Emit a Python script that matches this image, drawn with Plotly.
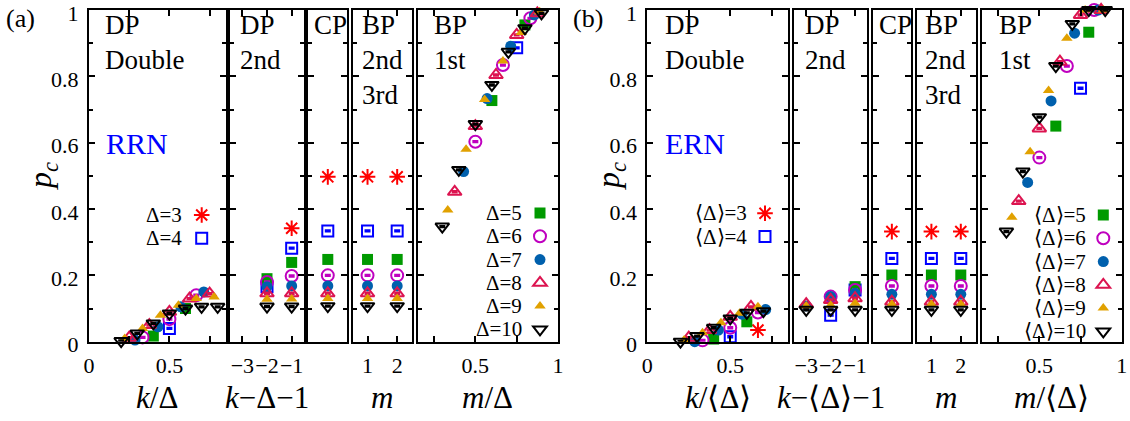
import plotly.graph_objects as go

W, H = 1130, 421
FONT = "Times New Roman, Liberation Serif, serif"

DELTAS = [3, 4, 5, 6, 7, 8, 9, 10]

# ---------------- Panel (a): RRN ----------------
# DP Double, x = k/Δ
RRN_DD_X = {3: [], 4: [0.5], 5: [0.4, 0.6], 6: [0.333, 0.5, 0.667],
            7: [0.286, 0.429, 0.571, 0.714], 8: [0.25, 0.375, 0.5, 0.625, 0.75],
            9: [0.222, 0.333, 0.444, 0.556, 0.667, 0.778],
            10: [0.2, 0.3, 0.4, 0.5, 0.6, 0.7, 0.8]}
RRN_DD_Y = {3: [], 4: [0.04], 5: [0.017, 0.10], 6: [0.013, 0.068, 0.14],
            7: [0.005, 0.045, 0.105, 0.15], 8: [0.012, 0.05, 0.09, 0.13, 0.145],
            9: [0.01, 0.04, 0.08, 0.11, 0.13, 0.135],
            10: [0.002, 0.025, 0.055, 0.085, 0.10, 0.105, 0.105]}
# DP 2nd, x = k-Δ-1
RRN_DP2_X = {3: [-1], 4: [-2, -1], 5: [-2, -1], 6: [-2, -1], 7: [-2, -1],
             8: [-2, -1], 9: [-2, -1], 10: [-2, -1]}
RRN_DP2_Y = {3: [0.342], 4: [0.166, 0.282], 5: [0.19, 0.239], 6: [0.18, 0.198],
             7: [0.166, 0.168], 8: [0.146, 0.146], 9: [0.128, 0.129], 10: [0.106, 0.106]}
# CP (one value per Δ, order of DELTAS)
RRN_CP = [0.497, 0.334, 0.248, 0.2, 0.168, 0.146, 0.13, 0.107]
# BP 2nd/3rd at m = 1 and m = 2
RRN_BP23_M1 = [0.497, 0.334, 0.248, 0.2, 0.168, 0.146, 0.13, 0.107]
RRN_BP23_M2 = [0.497, 0.334, 0.248, 0.2, 0.168, 0.146, 0.13, 0.107]
# BP 1st, x = m/Δ
RRN_BP1_X = {3: [], 4: [0.75], 5: [0.6, 0.8], 6: [0.5, 0.667, 0.833],
             7: [0.429, 0.571, 0.714, 0.857], 8: [0.375, 0.5, 0.625, 0.75, 0.875],
             9: [0.333, 0.444, 0.556, 0.667, 0.778, 0.889],
             10: [0.3, 0.4, 0.5, 0.6, 0.7, 0.8, 0.9]}
RRN_BP1_Y = {3: [], 4: [0.886], 5: [0.727, 0.955], 6: [0.603, 0.834, 0.975],
             7: [0.513, 0.733, 0.891, 0.985], 8: [0.452, 0.65, 0.804, 0.925, 0.99],
             9: [0.397, 0.58, 0.73, 0.846, 0.932, 0.995],
             10: [0.347, 0.518, 0.656, 0.774, 0.874, 0.945, 0.99]}

# ---------------- Panel (b): ERN ----------------
ERN_DD_X = {3: [0.667], 4: [0.5], 5: [0.4, 0.6], 6: [0.333, 0.5, 0.667],
            7: [0.286, 0.429, 0.571, 0.714], 8: [0.25, 0.375, 0.5, 0.625],
            9: [0.222, 0.333, 0.444, 0.556, 0.667],
            10: [0.2, 0.3, 0.4, 0.5, 0.6, 0.7]}
ERN_DD_Y = {3: [0.035], 4: [0.015], 5: [0.008, 0.06], 6: [0.004, 0.042, 0.088],
            7: [0.0, 0.035, 0.083, 0.097], 8: [0.012, 0.035, 0.075, 0.105],
            9: [0.005, 0.027, 0.057, 0.086, 0.105],
            10: [0.0, 0.017, 0.042, 0.07, 0.087, 0.092]}
ERN_DP2_X = {3: [], 4: [-2, -1], 5: [-1], 6: [-2, -1], 7: [-3, -2, -1],
             8: [-3, -2, -1], 9: [-3, -2, -1], 10: [-3, -2, -1]}
ERN_DP2_Y = {3: [], 4: [0.08, 0.156], 5: [0.166], 6: [0.136, 0.156],
             7: [0.108, 0.136, 0.146], 8: [0.113, 0.126, 0.131],
             9: [0.108, 0.11, 0.116], 10: [0.096, 0.096, 0.096]}
ERN_CP = [0.332, 0.251, 0.201, 0.168, 0.143, 0.121, 0.113, 0.096]
ERN_BP23_M1 = [0.332, 0.251, 0.201, 0.168, 0.143, 0.121, 0.113, 0.096]
ERN_BP23_M2 = [0.332, 0.251, 0.201, 0.168, 0.143, 0.121, 0.113, 0.096]
ERN_BP1_X = {3: [], 4: [0.75], 5: [0.6, 0.8], 6: [0.5, 0.667, 0.833],
             7: [0.429, 0.571, 0.714, 0.857], 8: [0.375, 0.5, 0.625, 0.75, 0.875],
             9: [0.333, 0.444, 0.556, 0.667, 0.778, 0.889],
             10: [0.3, 0.4, 0.5, 0.6, 0.7, 0.8, 0.9]}
ERN_BP1_Y = {3: [], 4: [0.764], 5: [0.65, 0.933], 6: [0.555, 0.831, 1.0],
             7: [0.48, 0.726, 0.93, 1.0], 8: [0.424, 0.643, 0.844, 0.985, 1.0],
             9: [0.375, 0.573, 0.757, 0.915, 1.0, 1.0],
             10: [0.332, 0.513, 0.677, 0.831, 0.958, 1.0, 1.0]}

BP23_M = [1, 2]
CP_X = [1]
Y_TICKS = [0, 0.2, 0.4, 0.6, 0.8, 1]
Y_MINOR = [0.1, 0.3, 0.5, 0.7, 0.9]

# ---------------- styles ----------------
STYLE = {
    3: dict(symbol="asterisk-open", size=13, color="#ff0000", err=False),
    4: dict(symbol="square-open", size=11, color="#0000ff", err=True),
    5: dict(symbol="square", size=11, color="#009a00", err=False),
    6: dict(symbol="circle-open", size=12, color="#bf00bf", err=True),
    7: dict(symbol="circle", size=11, color="#0060ad", err=False),
    8: dict(symbol="triangle-up-open", size=12, color="#dc1450", err=True),
    9: dict(symbol="triangle-up", size=10, color="#e1a100", err=False),
    10: dict(symbol="triangle-down-open", size=12, color="#000000", err=True),
}


def px2x(px):
    return px / W


def py2y(py):
    return 1 - py / H


def xname(i):
    return "x" if i == 1 else f"x{i}"


def yname(i):
    return "y" if i == 1 else f"y{i}"


# subplot pixel boxes (left, right)
XBOX = [(89, 225.7), (230, 304), (308.3, 347.3), (352.7, 412), (417.5, 558),
        (647.3, 788.3), (794, 867.3), (872.7, 911), (916.7, 975.5), (981.7, 1121.7)]
YDOM = [py2y(341.7), py2y(10)]

LEG_FS = 15.6
LH = 1.3 * LEG_FS + 3

fig = go.Figure()


def marker_for(d):
    s = STYLE[d]
    open_ = s["symbol"].endswith("open")
    return dict(symbol=s["symbol"], size=s["size"], color=s["color"],
                line=dict(color=s["color"], width=2 if open_ else 0))


def err_for(d):
    s = STYLE[d]
    if not s["err"]:
        return None
    return dict(type="constant", value=0.002, width=3, thickness=2, color=s["color"])


def add(d, x, y, sub, legend=None):
    fig.add_trace(go.Scatter(
        x=x, y=y, mode="markers", xaxis=xname(sub), yaxis=yname(sub),
        marker=marker_for(d), error_y=err_for(d), cliponaxis=False,
        name=" ", showlegend=legend is not None, legend=legend or "legend",
        hoverinfo="x+y",
    ))


panels = [
    (0, RRN_DD_X, RRN_DD_Y, RRN_DP2_X, RRN_DP2_Y, RRN_CP, RRN_BP23_M1, RRN_BP23_M2,
     RRN_BP1_X, RRN_BP1_Y, "legend", "legend2"),
    (5, ERN_DD_X, ERN_DD_Y, ERN_DP2_X, ERN_DP2_Y, ERN_CP, ERN_BP23_M1, ERN_BP23_M2,
     ERN_BP1_X, ERN_BP1_Y, "legend3", "legend4"),
]
for off, ddx, ddy, d2x, d2y, cp, m1, m2, b1x, b1y, lgA, lgB in panels:
    for j, d in enumerate(DELTAS):
        add(d, ddx[d], ddy[d], off + 1)
        add(d, d2x[d], d2y[d], off + 2)
        add(d, CP_X, [cp[j]], off + 3, legend=(lgA if d <= 4 else lgB))
        add(d, BP23_M, [m1[j], m2[j]], off + 4)
        add(d, b1x[d], b1y[d], off + 5)

# ---------------- axes ----------------
axis_common = dict(showline=True, linewidth=2, linecolor="black", mirror="allticks",
                   ticks="inside", ticklen=6, tickwidth=1.5, tickcolor="black",
                   showgrid=False, zeroline=False, automargin=False,
                   ticklabeloverflow="allow",
                   tickfont=dict(family=FONT, size=22, color="black"))
layout = dict(width=W, height=H, autosize=False, margin=dict(l=0, r=0, t=0, b=0, autoexpand=False),
              paper_bgcolor="white", plot_bgcolor="white", showlegend=True,
              font=dict(family=FONT, color="black"))

XSPEC = {
    1: dict(range=[0, 0.85], tick0=0, dtick=0.5, minor=dict(dtick=0.25, ticks="inside", ticklen=6, tickcolor="black")),
    2: dict(range=[-3.5, -0.5], tickvals=[-3, -2, -1]),
    3: dict(range=[0.5, 1.5], ticks="", showticklabels=False),
    4: dict(range=[0.5, 2.5], tickvals=[1, 2]),
    5: dict(range=[0.15, 1.0], tick0=0, dtick=0.5, minor=dict(dtick=0.25, ticks="inside", ticklen=6, tickcolor="black")),
}
for i in range(1, 11):
    k = (i - 1) % 5 + 1
    l, r = XBOX[i - 1]
    xa = dict(axis_common)
    xa.update(domain=[px2x(l), px2x(r)], anchor=yname(i), ticklabelstandoff=3, tickangle=0)
    xa.update(XSPEC[k])
    ya = dict(axis_common)
    ya.update(domain=YDOM, anchor=xname(i), range=[0, 1], tickmode="array",
              tickvals=Y_TICKS, ticktext=["0", "0.2", "0.4", "0.6", "0.8", "1"],
              minor=dict(tickmode="array", tickvals=Y_MINOR, ticks="inside", ticklen=4, tickcolor="black"),
              showticklabels=(k == 1), ticklabelstandoff=4, ticklabelshift=3)
    layout["xaxis" if i == 1 else f"xaxis{i}"] = xa
    layout["yaxis" if i == 1 else f"yaxis{i}"] = ya

# ---------------- legends (symbols only; labels as text to their left) ----------------
LEG_DEF = [
    ("legend", 201.7, 215, 183.3, ["Δ=3", "Δ=4"]),
    ("legend2", 540, 213, 523, ["Δ=5", "Δ=6", "Δ=7", "Δ=8", "Δ=9", "Δ=10"]),
    ("legend3", 765, 213.3, 748.3, ["⟨Δ⟩=3", "⟨Δ⟩=4"]),
    ("legend4", 1103.3, 215, 1086.7, ["⟨Δ⟩=5", "⟨Δ⟩=6", "⟨Δ⟩=7", "⟨Δ⟩=8", "⟨Δ⟩=9", "⟨Δ⟩=10"]),
]
annotations = []
for name, sym_px, first_py, text_right, labels in LEG_DEF:
    layout[name] = dict(x=px2x(sym_px - 20), y=py2y(first_py - 5 - LH / 2),
                        xanchor="left", yanchor="top", bgcolor="rgba(0,0,0,0)",
                        borderwidth=0, tracegroupgap=0, itemsizing="trace",
                        font=dict(family=FONT, size=LEG_FS, color="black"))
    for i, lab in enumerate(labels):
        annotations.append(dict(text=lab, x=px2x(text_right), y=py2y(first_py + i * LH),
                                xref="paper", yref="paper", xanchor="right", yanchor="middle",
                                showarrow=False, borderpad=0,
                                font=dict(family=FONT, size=21, color="black")))


def ann(text, px, py, size, color="black", xanchor="left", yanchor="top", angle=0, align="left"):
    annotations.append(dict(text=text, x=px2x(px), y=py2y(py), xref="paper", yref="paper",
                            xanchor=xanchor, yanchor=yanchor, showarrow=False, align=align,
                            textangle=angle, font=dict(family=FONT, size=size, color=color)))


# in-panel labels
for px, txt in [(102.7, "DP<br>Double"), (238.3, "DP<br>2nd"), (312.3, "CP"),
                (360, "BP<br>2nd<br>3rd"), (432.3, "BP<br>1st"),
                (663.3, "DP<br>Double"), (802.7, "DP<br>2nd"), (876.7, "CP"),
                (923.3, "BP<br>2nd<br>3rd"), (996.7, "BP<br>1st")]:
    ann(txt, px, 8, 27)
ann("RRN", 104, 143.3, 30, color="#0000ff", yanchor="middle")
ann("ERN", 663.3, 143.3, 30, color="#0000ff", yanchor="middle")
ann("(a)", 4, 18, 26, yanchor="middle")
ann("(b)", 571, 18, 26, yanchor="middle")
ann("<i>p</i><sub><i>c</i></sub>", 42, 176, 32, xanchor="center", yanchor="middle", angle=-90)
ann("<i>p</i><sub><i>c</i></sub>", 610, 176, 32, xanchor="center", yanchor="middle", angle=-90)

# x-axis titles
XT = [(1, "<i>k</i>/Δ"), (2, "<i>k</i>−Δ−1"), (4, "<i>m</i>"), (5, "<i>m</i>/Δ"),
      (6, "<i>k</i>/⟨Δ⟩"), (7, "<i>k</i>−⟨Δ⟩−1"), (9, "<i>m</i>"), (10, "<i>m</i>/⟨Δ⟩")]
for i, txt in XT:
    annotations.append(dict(text=txt, x=0.5, y=py2y(397), xref=f"{xname(i)} domain", yref="paper",
                            xanchor="center", yanchor="middle", showarrow=False,
                            font=dict(family=FONT, size=31, color="black")))

layout["annotations"] = annotations
fig.update_layout(**layout)
fig.write_html("out.html", config={"responsive": False, "displayModeBar": False},
               post_script="document.body.style.margin='0';")
